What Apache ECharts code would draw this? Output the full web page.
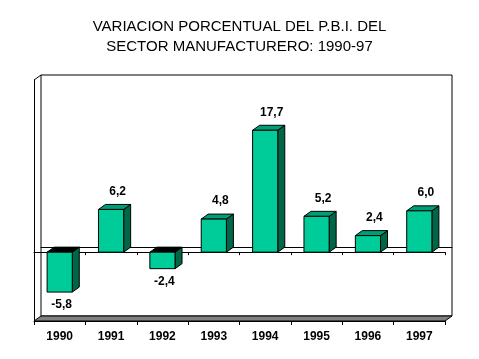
<!DOCTYPE html>
<html>
<head>
<meta charset="utf-8">
<script src="https://cdn.jsdelivr.net/npm/echarts@6/dist/echarts.min.js"></script>
<style>
html,body{margin:0;padding:0;background:#fff;}
#chart{width:479px;height:359px;}
</style>
</head>
<body>
<div id="chart"></div>
<script>
const titleLines = ['VARIACION PORCENTUAL DEL P.B.I. DEL', 'SECTOR MANUFACTURERO: 1990-97'];
const categories = ['1990', '1991', '1992', '1993', '1994', '1995', '1996', '1997'];
const values = [-5.8, 6.2, -2.4, 4.8, 17.7, 5.2, 2.4, 6.0];
const yMin = -10;
const yMax = 25;

const FONT = "'Liberation Sans', Arial, sans-serif";
const DX = 7, DY = 5;
const FRONT = '#00cc99', TOP = '#009e76', SIDE = '#006648';

function fmt(v) { return v.toFixed(1).replace('.', ','); }

const chart = echarts.init(document.getElementById('chart'), null, {renderer: 'canvas'});

const option = {
  backgroundColor: '#fff',
  animation: false,
  title: {
    text: titleLines.join('\n'),
    left: 'center',
    top: 17,
    padding: 0,
    textStyle: {fontFamily: FONT, fontSize: 15, fontWeight: 'normal', color: '#000', lineHeight: 20}
  },
  grid: [
    {left: 34, right: 34, top: 80, bottom: 38, show: false},
    {left: 34 + DX, right: 34 - DX, top: 80 - DY, bottom: 38 + DY, show: true,
     borderColor: '#000', borderWidth: 1, backgroundColor: '#fff'}
  ],
  xAxis: [
    {type: 'category', data: categories, gridIndex: 0, position: 'bottom',
     axisLine: {onZero: false, lineStyle: {color: '#000', width: 1}},
     axisTick: {show: true, length: 4, lineStyle: {color: '#000'}},
     axisLabel: {color: '#000', fontFamily: FONT, fontSize: 12, fontWeight: 'bold', margin: 10}},
    {type: 'category', data: categories, gridIndex: 0, position: 'bottom',
     axisLine: {onZero: true, lineStyle: {color: '#000', width: 1}},
     axisTick: {show: true, length: 3, lineStyle: {color: '#000'}},
     axisLabel: {show: false}},
    {type: 'category', data: categories, gridIndex: 1, position: 'bottom',
     axisLine: {onZero: true, lineStyle: {color: '#000', width: 1}},
     axisTick: {show: false}, axisLabel: {show: false}}
  ],
  yAxis: [
    {type: 'value', gridIndex: 0, min: yMin, max: yMax, position: 'left',
     axisLine: {show: true, onZero: false, lineStyle: {color: '#000'}},
     axisTick: {show: false}, axisLabel: {show: false}, splitLine: {show: false}},
    {type: 'value', gridIndex: 1, min: yMin, max: yMax,
     axisLine: {show: false}, axisTick: {show: false}, axisLabel: {show: false}, splitLine: {show: false}}
  ],
  series: [
    {
      type: 'custom', name: 'floor', xAxisIndex: 0, yAxisIndex: 0, z: 1, silent: true,
      data: [[0, 0]],
      clip: false,
      renderItem: function (params, api) {
        const c = params.coordSys;
        const x = c.x, y = c.y, w = c.width, h = c.height;
        return {
          type: 'group',
          children: [
            {type: 'polygon', shape: {points: [[x, y + h], [x + DX, y + h - DY], [x + w + DX, y + h - DY], [x + w, y + h]]},
             style: {fill: '#808080', stroke: '#000', lineWidth: 1}},
            {type: 'line', shape: {x1: x, y1: y, x2: x + DX, y2: y - DY}, style: {stroke: '#000', lineWidth: 1}}
          ]
        };
      }
    },
    {
      type: 'custom', name: 'PBI', xAxisIndex: 0, yAxisIndex: 0, z: 3,
      data: values.map((v, i) => [i, v]),
      clip: false,
      renderItem: function (params, api) {
        const i = api.value(0), v = api.value(1);
        const p = api.coord([i, v]);
        const z0 = api.coord([i, 0]);
        const bw = api.size([1, 0])[0] * 0.49;
        const x0 = p[0] - bw / 2, x1 = p[0] + bw / 2;
        const top = Math.min(p[1], z0[1]), bot = Math.max(p[1], z0[1]);
        const pos = v >= 0;
        const label = pos
          ? {type: 'text', style: {text: fmt(v), x: p[0] + 6.5, y: top - 18, align: 'center', verticalAlign: 'middle',
              fill: '#000', font: 'bold 12px ' + FONT}}
          : {type: 'text', style: {text: fmt(v), x: p[0] + 2, y: bot + 13, align: 'center', verticalAlign: 'middle',
              fill: '#000', font: 'bold 12px ' + FONT}};
        return {
          type: 'group',
          children: [
            {type: 'polygon', shape: {points: [[x1, top], [x1 + DX, top - DY], [x1 + DX, bot - DY], [x1, bot]]},
             style: {fill: SIDE, stroke: '#000', lineWidth: 1}},
            {type: 'polygon', shape: {points: [[x0, top], [x0 + DX, top - DY], [x1 + DX, top - DY], [x1, top]]},
             style: {fill: pos ? TOP : '#000', stroke: '#000', lineWidth: 1}},
            {type: 'rect', shape: {x: x0, y: top, width: bw, height: bot - top},
             style: {fill: FRONT, stroke: '#000', lineWidth: 1}},
            label
          ]
        };
      }
    }
  ]
};
chart.setOption(option);
</script>
</body>
</html>
